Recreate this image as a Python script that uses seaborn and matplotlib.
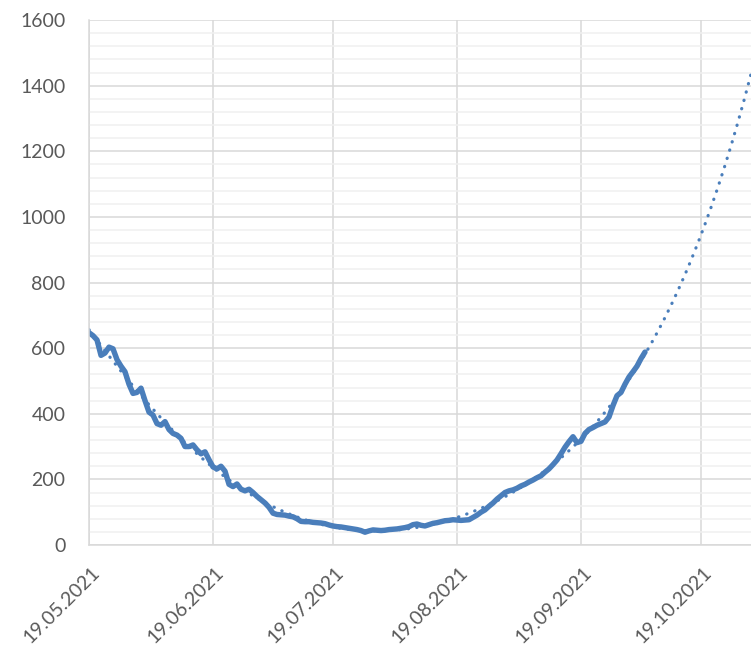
import numpy as np
import pandas as pd
import seaborn as sns
import matplotlib.pyplot as plt
import matplotlib.dates as mdates
import matplotlib.transforms as mtransforms

# daily values, 19.05.2021 onwards
start_date = "2021-05-19"
values = [
    647, 638, 625, 578, 585, 603, 598, 565, 545, 528,
    490, 462, 465, 478, 440, 405, 396, 370, 365, 376,
    352, 340, 335, 325, 300, 300, 305, 290, 278, 284,
    260, 238, 232, 240, 225, 185, 178, 186, 170, 165,
    170, 160, 148, 138, 128, 115, 97, 93, 92, 91,
    88, 86, 80, 72, 71, 71, 69, 68, 67, 65,
    61, 58, 56, 55, 53, 51, 49, 47, 44, 39,
    43, 46, 45, 44, 45, 47, 48, 49, 51, 53,
    56, 62, 64, 60, 58, 62, 66, 68, 71, 74,
    75, 77, 76, 75, 76, 77, 84, 91, 100, 107,
    118, 128, 140, 150, 160, 165, 168, 173, 180, 185,
    192, 198, 205, 211, 222, 232, 245, 259, 278, 298,
    315, 330, 312, 316, 340, 352, 358, 365, 370, 375,
    390, 425, 455, 465, 490, 512, 528, 545, 568, 588,
]
tick_dates = ["2021-05-19", "2021-06-19", "2021-07-19", "2021-08-19", "2021-09-19", "2021-10-19"]
axis_end = "2021-10-31 12:00"
trend_order = 5

dates = pd.date_range(start_date, periods=len(values), freq="D")
df = pd.DataFrame({"date": dates, "value": values})

# trend line: polynomial fit, forecast to end of axis
days = np.arange(len(values))
t0 = pd.Timestamp(start_date)
t_end = (pd.Timestamp(axis_end) - t0) / pd.Timedelta(days=1)
coef = np.polyfit(days, values, trend_order)
trend_days = np.linspace(0, t_end, 300)
trend = pd.DataFrame({"date": t0 + pd.to_timedelta(trend_days, unit="D"),
                      "value": np.polyval(coef, trend_days)})

sns.set_style("white")
plt.rcParams["font.family"] = ["Lato", "DejaVu Sans"]

fig = plt.figure(figsize=(7.51, 6.58), dpi=100)
ax = fig.add_axes([89 / 751, 113 / 658, 662 / 751, 525 / 658])

blue = "#4a7ebb"
sns.lineplot(data=df, x="date", y="value", ax=ax, color=blue, linewidth=3.9,
             solid_capstyle="round", solid_joinstyle="round")
sns.lineplot(data=trend, x="date", y="value", ax=ax, color=blue, linewidth=2.3,
             linestyle=(0, (0.1, 2.6)), dash_capstyle="round")

ax.set_ylim(0, 1600)
ax.set_xlim(t0, pd.Timestamp(axis_end))
ax.set_yticks(range(0, 1601, 200))
ax.set_yticks(range(0, 1601, 40), minor=True)
ax.set_xticks(pd.to_datetime(tick_dates))
ax.xaxis.set_major_formatter(mdates.DateFormatter("%d.%m.%Y"))

ax.grid(which="major", color="#d9d9d9", linewidth=1.1)
ax.grid(which="minor", axis="y", color="#f0f0f0", linewidth=1.1)
ax.set_axisbelow(True)
for side in ["top", "right"]:
    ax.spines[side].set_visible(False)
for side in ["left", "bottom"]:
    ax.spines[side].set_color("#d9d9d9")
    ax.spines[side].set_linewidth(1.1)

ax.tick_params(axis="both", which="both", length=0, labelsize=14, labelcolor="#595959")
ax.tick_params(axis="y", pad=17)
shift = mtransforms.ScaledTranslation(0.08, -0.20, fig.dpi_scale_trans)
for lab in ax.get_xticklabels():
    lab.set_rotation(45)
    lab.set_ha("right")
    lab.set_va("center")
    lab.set_rotation_mode("anchor")
    lab.set_transform(lab.get_transform() + shift)
ax.set_xlabel("")
ax.set_ylabel("")

fig.savefig("out.png", dpi=100)
